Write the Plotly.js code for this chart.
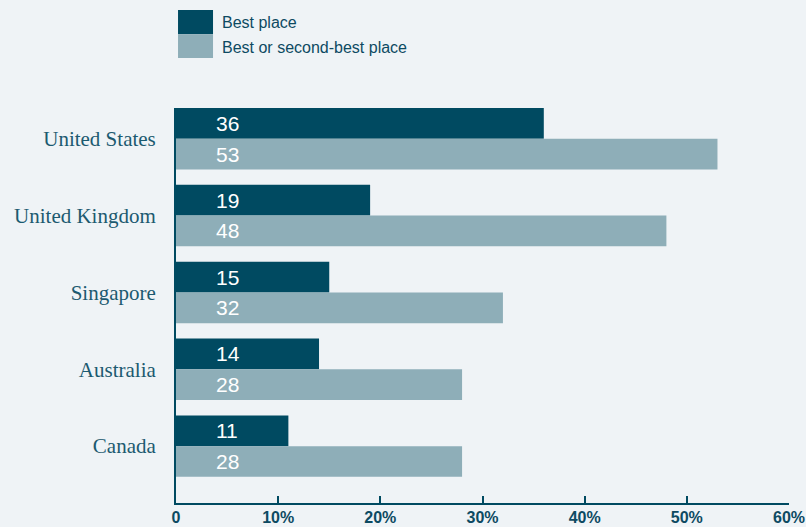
<!DOCTYPE html>
<html>
<head>
<meta charset="utf-8">
<script src="https://cdn.plot.ly/plotly-3.0.1.min.js"></script>
<style>html,body{margin:0;padding:0;background:#eff3f6;}#chart{width:806px;height:527px;}</style>
</head>
<body>
<div id="chart"></div>
<script>
const categories = ["United States", "United Kingdom", "Singapore", "Australia", "Canada"];
const bestPlace = [36, 19, 15, 14, 11];
const bestOrSecond = [53, 48, 32, 28, 28];
const seriesNames = ["Best place", "Best or second-best place"];
const tickVals = [0, 10, 20, 30, 40, 50, 60];
const tickText = ["0", "10%", "20%", "30%", "40%", "50%", "60%"];

const dark = "#004a61";
const light = "#8eaeb8";
const textColor = "#0d4a62";

const traces = [
  {type: "bar", orientation: "h", name: seriesNames[0], y: categories, x: bestPlace,
   marker: {color: dark}, hoverinfo: "none"},
  {type: "bar", orientation: "h", name: seriesNames[1], y: categories, x: bestOrSecond,
   marker: {color: light}, hoverinfo: "none"}
];

const annotations = [];
categories.forEach((c, i) => {
  annotations.push({x: 0, y: c, xref: "x", yref: "y", text: String(bestPlace[i]), showarrow: false,
    xanchor: "left", yanchor: "middle", xshift: 38, yshift: 15.4,
    font: {family: "Liberation Sans, Arial, sans-serif", size: 21, color: "#ffffff"}});
  annotations.push({x: 0, y: c, xref: "x", yref: "y", text: String(bestOrSecond[i]), showarrow: false,
    xanchor: "left", yanchor: "middle", xshift: 38, yshift: -15.4,
    font: {family: "Liberation Sans, Arial, sans-serif", size: 21, color: "#ffffff"}});
});
// legend labels
const legendY = [1.2177, 1.154];
seriesNames.forEach((n, i) => {
  annotations.push({x: 0.071, y: legendY[i], xref: "paper", yref: "paper", text: n, showarrow: false,
    xanchor: "left", yanchor: "middle",
    font: {family: "Liberation Sans, Arial, sans-serif", size: 16, color: textColor}});
});

const shapes = [
  {type: "rect", xref: "paper", yref: "paper", x0: 0.0033, x1: 0.0604, y0: 1.187, y1: 1.248,
   fillcolor: dark, line: {width: 0}},
  {type: "rect", xref: "paper", yref: "paper", x0: 0.0033, x1: 0.0604, y0: 1.1266, y1: 1.187,
   fillcolor: light, line: {width: 0}}
];

const layout = {
  width: 806, height: 527,
  margin: {l: 176, r: 17, t: 108, b: 24, pad: 0},
  paper_bgcolor: "#eff3f6", plot_bgcolor: "#eff3f6",
  barmode: "group", bargap: 0.2, bargroupgap: 0,
  showlegend: false,
  xaxis: {range: [0, 60], tickvals: tickVals, ticktext: tickText, showgrid: false, zeroline: false,
    showline: true, linecolor: dark, linewidth: 2, ticks: "inside", ticklen: 7, tickwidth: 2, tickcolor: dark,
    ticklabeloverflow: "allow", ticklabelstandoff: -1,
    tickfont: {family: "Liberation Sans, Arial, sans-serif", size: 16, color: textColor, weight: "bold"},
    fixedrange: true},
  yaxis: {type: "category", range: [4.74, -0.4], showgrid: false, zeroline: false,
    showline: true, linecolor: dark, linewidth: 2, ticks: "", ticklabelstandoff: 14,
    tickfont: {family: "Liberation Serif, Times New Roman, serif", size: 21, color: "#1c5a70"},
    fixedrange: true},
  annotations: annotations,
  shapes: shapes
};

Plotly.newPlot("chart", traces, layout, {displayModeBar: false, staticPlot: true});
</script>
</body>
</html>
